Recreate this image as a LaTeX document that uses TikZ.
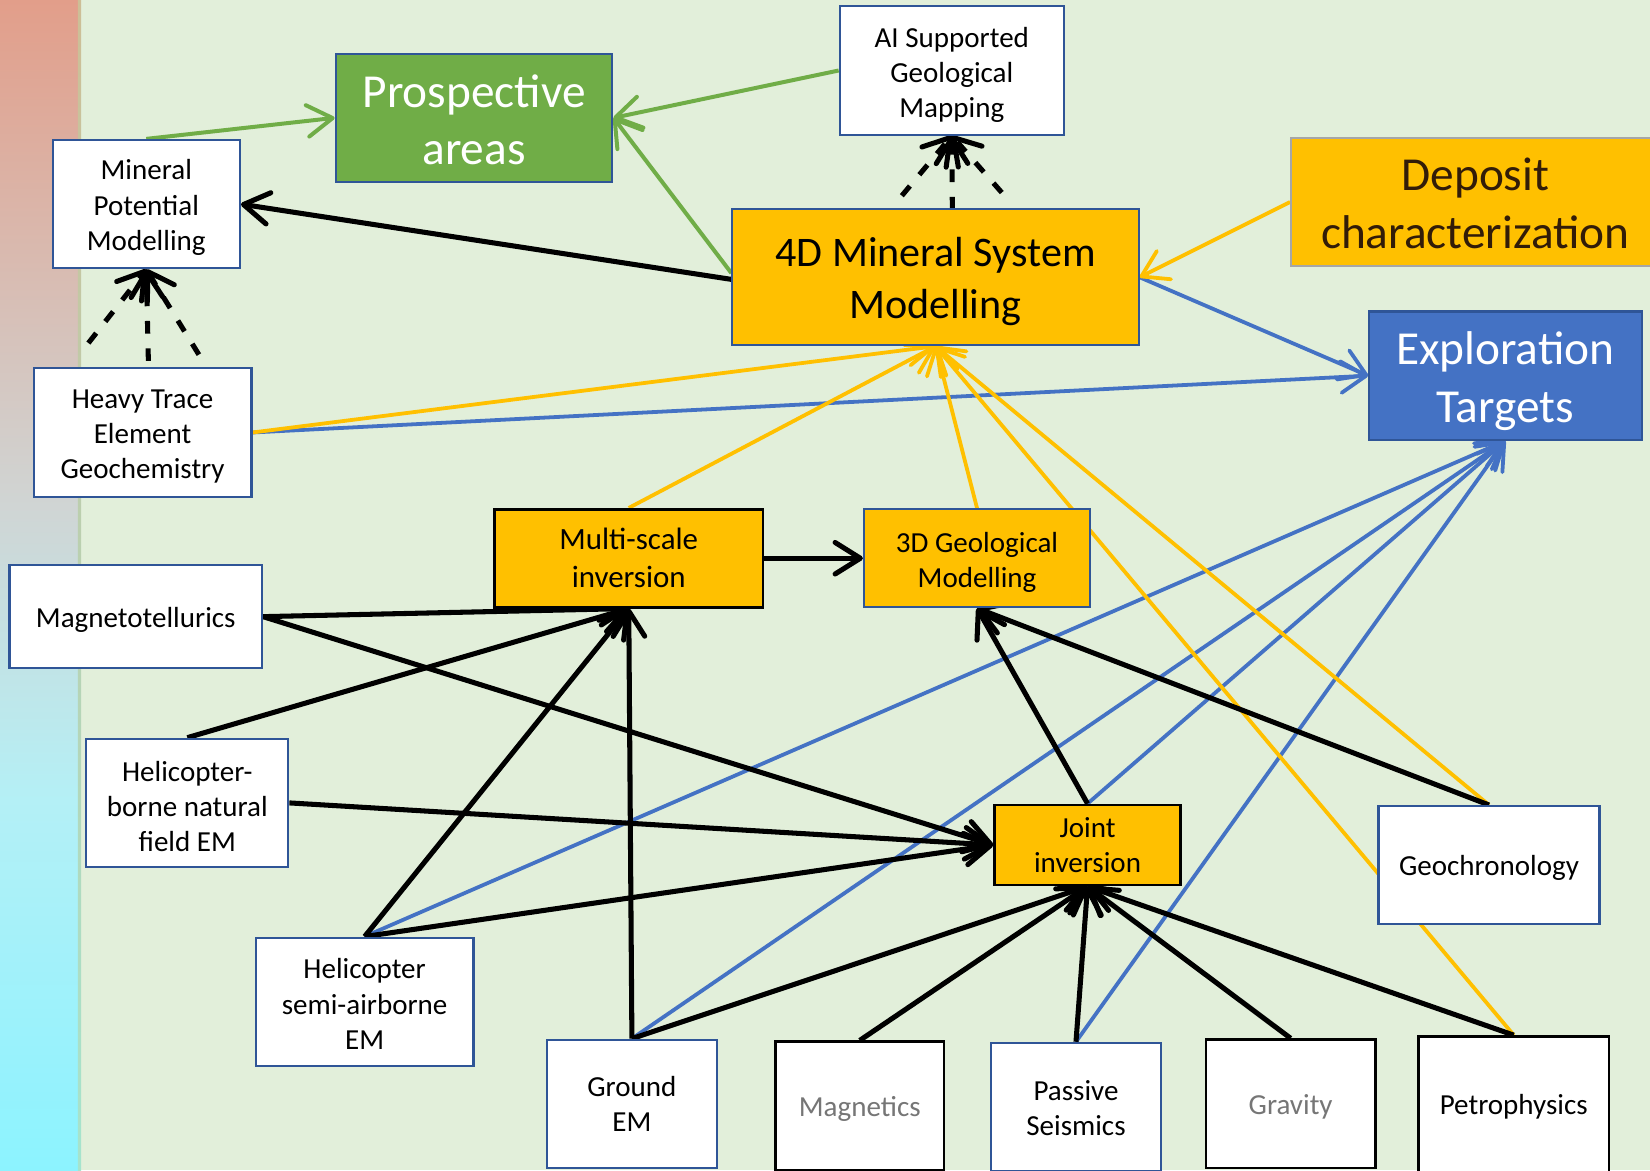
\documentclass[tikz,border=0pt]{standalone}
\usepackage{fontspec}
\setmainfont{Carlito}
\usetikzlibrary{arrows.meta}
\pgfdeclarelayer{bg}
\pgfdeclarelayer{edges}
\pgfsetlayers{bg,edges,main}
\definecolor{bggreen}{RGB}{226,239,218}
\definecolor{gold}{RGB}{255,192,0}
\definecolor{lgreen}{RGB}{112,173,71}
\definecolor{mblue}{RGB}{68,114,196}
\definecolor{bborder}{RGB}{47,85,151}
\definecolor{dbrown}{RGB}{50,28,8}
\definecolor{gtext}{RGB}{118,118,118}
\definecolor{salmon}{RGB}{226,158,138}
\definecolor{stripgray}{RGB}{208,213,212}
\definecolor{lcyan}{RGB}{180,240,246}
\definecolor{cyantwo}{RGB}{140,243,255}
\definecolor{edgetop}{RGB}{205,190,150}
\definecolor{edgebot}{RGB}{165,228,205}
\newcommand\upst[1][0.92]{\rule{0pt}{#1em}}
\begin{document}
\begin{tikzpicture}[x=0.5pt,y=-0.5pt,
  sz/.style 2 args={minimum width=#1*0.5pt,minimum height=#2*0.5pt},
  box/.style={draw=bborder,line width=1pt,fill=white,inner sep=0pt,align=center,
    font=\fontsize{13.8}{16.7}\selectfont},
  dn/.style={execute at begin node={\rule{0pt}{#1em}}},
  dn/.default=0.92,
  bbox/.style={box,draw=black,line width=1.3pt},
  gbox/.style={box,draw=black,line width=1.3pt,text=gtext},
  obox/.style={box,fill=gold},
  arr/.style={-{Straight Barb[length=12pt,width=15pt,round]}},
  blk/.style={draw=black,line width=2.4pt,arr},
  grn/.style={draw=lgreen,line width=1.9pt,arr},
  blu/.style={draw=mblue,line width=1.8pt,arr},
  org/.style={draw=gold,line width=1.8pt,arr},
  dsh/.style={draw=black,line width=2.4pt,dash pattern=on 6pt off 7pt,arr}
]
\useasboundingbox (0,0) rectangle (1568,1112);
\begin{pgfonlayer}{bg}
  \fill[bggreen] (0,0) rectangle (1568,1112);
  \shade[top color=salmon,bottom color=stripgray] (0,0) rectangle (74,481);
  \shade[top color=stripgray,bottom color=lcyan] (0,480) rectangle (74,761);
  \shade[top color=lcyan,bottom color=cyantwo] (0,760) rectangle (74,1112);
  \shade[top color=edgetop,bottom color=edgebot] (74,0) rectangle (77,1112);
\end{pgfonlayer}

% nodes
\node[box,sz={178}{122}] (mpm) at (139,194) {\upst Mineral\\Potential\\Modelling};
\node[box,fill=lgreen,text=white,sz={263}{122},font=\fontsize{22.5}{27}\selectfont] (pa) at (450.5,112) {\upst[0.76]Prospective\\areas};
\node[box,sz={213}{122}] (ai) at (904.5,67) {\upst[0.98]AI Supported\\Geological\\Mapping};
\node[obox,sz={386}{129},font=\fontsize{20}{24.5}\selectfont] (md) at (889,263.5) {\upst[0.9]4D Mineral System\\Modelling};
\node[obox,draw=gray!70,text=dbrown,sz={350}{122},font=\fontsize{22.5}{27.5}\selectfont] (dc) at (1402,192) {\upst[0.76]Deposit\\characterization};
\node[box,fill=mblue,text=white,sz={259}{122},font=\fontsize{22.5}{27.5}\selectfont] (et) at (1430.5,357) {\upst[0.93]Exploration\\Targets};
\node[box,sz={207}{122}] (htg) at (135.5,411) {\upst[0.93]Heavy Trace\\Element\\Geochemistry};
\node[box,dn,sz={240}{98}] (mt) at (129,586) {Magnetotellurics};
\node[obox,draw=black,line width=1.3pt,sz={255}{93},font=\fontsize{14.7}{18}\selectfont] (ms) at (597.5,530.5) {Multi-scale\\inversion};
\node[obox,sz={215}{93}] (gm) at (928.5,530.5) {\upst[0.98]3D Geological\\Modelling};
\node[box,sz={192}{122}] (hb) at (178,763) {\upst Helicopter-\\borne natural\\field EM};
\node[obox,draw=black,line width=1.3pt,sz={177}{76}] (jt) at (1033.5,803) {Joint\\inversion};
\node[box,dn,sz={210}{112}] (geo) at (1415,822) {Geochronology};
\node[box,sz={207}{122}] (hs) at (346.5,952) {\upst[0.85]Helicopter\\semi-airborne\\EM};
\node[box,sz={161}{122}] (gem) at (600.5,1049) {Ground\\EM};
\node[gbox,dn,sz={160}{122}] (mag) at (817,1051) {Magnetics};
\node[box,sz={161}{122}] (ps) at (1022.5,1052) {\upst[0.76]Passive\\Seismics};
\node[gbox,dn,sz={161}{122}] (grav) at (1226.5,1049) {Gravity};
\node[bbox,dn=0.85,sz={181}{130}] (pet) at (1438.5,1050) {Petrophysics};

\coordinate (da1) at (857,186);
\coordinate (da2) at (905,199);
\coordinate (da3) at (952,183);
\coordinate (dm1) at (84,326);
\coordinate (dm2) at (141,343);
\coordinate (dm3) at (189,337);

\begin{pgfonlayer}{edges}
  % green
  \draw[grn] (mpm.north) -- (pa.west);
  \draw[grn] (ai.west) -- (pa.east);
  \draw[grn] ([yshift=2pt]md.west) -- (pa.east);
  % blue
  \draw[blu] (md.east) -- (et.west);
  \draw[blu] (htg.east) -- (et.west);
  \draw[blu] (hs.north) -- (et.south);
  \draw[blu] (gem.north) -- (et.south);
  \draw[blu] (jt.north) -- (et.south);
  \draw[blu] (ps.north) -- (et.south);
  % orange
  \draw[org] (dc.west) -- (md.east);
  \draw[org] (htg.east) -- (md.south);
  \draw[org] (ms.north) -- (md.south);
  \draw[org] (gm.north) -- (md.south);
  \draw[org] (geo.north) -- (md.south);
  \draw[org] (pet.north) -- (md.south);
  % black
  \draw[blk] ([yshift=-1pt]md.west) -- (mpm.east);
  \draw[dsh] (da1) -- (ai.south);
  \draw[dsh] (da2) -- (ai.south);
  \draw[dsh] (da3) -- (ai.south);
  \draw[dsh] (dm1) -- (mpm.south);
  \draw[dsh] (dm2) -- (mpm.south);
  \draw[dsh] (dm3) -- (mpm.south);
  \draw[blk] (ms.east) -- (gm.west);
  \draw[blk] (mt.east) -- (ms.south);
  \draw[blk] (mt.east) -- (jt.west);
  \draw[blk] (hb.north) -- (ms.south);
  \draw[blk] (hb.east) -- (jt.west);
  \draw[blk] (hs.north) -- (ms.south);
  \draw[blk] (hs.north) -- (jt.west);
  \draw[blk] (gem.north) -- (ms.south);
  \draw[blk] (gem.north) -- (jt.south);
  \draw[blk] (mag.north) -- (jt.south);
  \draw[blk] (ps.north) -- (jt.south);
  \draw[blk] (grav.north) -- (jt.south);
  \draw[blk] (pet.north) -- (jt.south);
  \draw[blk] (jt.north) -- (gm.south);
  \draw[blk] (geo.north) -- (gm.south);
\end{pgfonlayer}
\end{tikzpicture}
\end{document}
